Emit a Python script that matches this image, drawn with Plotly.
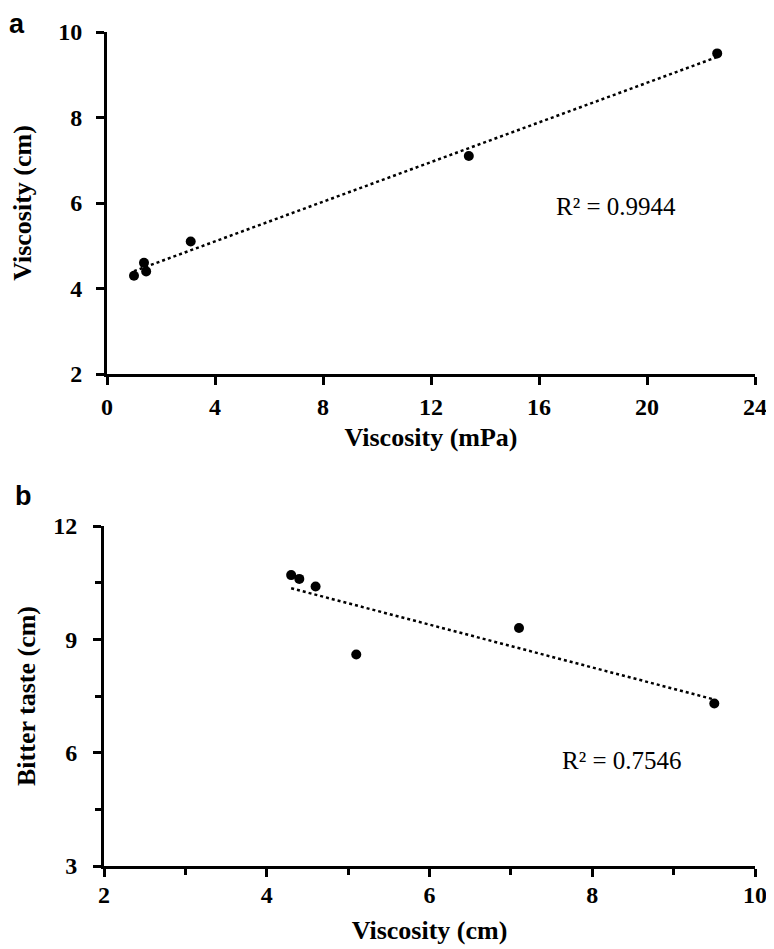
import numpy as np
import plotly.graph_objects as go

# Panel a data
visc_mpa = [1.0, 1.37, 1.45, 3.1, 13.4, 22.6]
visc_cm_a = [4.3, 4.6, 4.4, 5.1, 7.1, 9.5]
r2_a = "R² = 0.9944"

# Panel b data
visc_cm_b = [4.3, 4.4, 4.6, 5.1, 7.1, 9.5]
bitter = [10.7, 10.6, 10.4, 8.6, 9.3, 7.3]
r2_b = "R² = 0.7546"

W, H = 774, 949
O = 8  # default page body margin
FW, FH = W - O, H - O

def px(x):
    return (x - O) / FW

def py(y):
    return 1 - (y - O) / FH

def lin_fit(x, y):
    x = np.asarray(x, float); y = np.asarray(y, float)
    m, c = np.polyfit(x, y, 1)
    xs = np.array([x.min(), x.max()])
    return xs, m * xs + c

fig = go.Figure()

xa, ya = lin_fit(visc_mpa, visc_cm_a)
fig.add_trace(go.Scatter(x=xa, y=ya, mode="lines", line=dict(color="black", width=2.5, dash="dot"),
                         xaxis="x", yaxis="y", showlegend=False, hoverinfo="skip"))
fig.add_trace(go.Scatter(x=visc_mpa, y=visc_cm_a, mode="markers", marker=dict(color="black", size=10),
                         xaxis="x", yaxis="y", showlegend=False))

xb, yb = lin_fit(visc_cm_b, bitter)
fig.add_trace(go.Scatter(x=xb, y=yb, mode="lines", line=dict(color="black", width=2.5, dash="dot"),
                         xaxis="x2", yaxis="y2", showlegend=False, hoverinfo="skip"))
fig.add_trace(go.Scatter(x=visc_cm_b, y=bitter, mode="markers", marker=dict(color="black", size=10),
                         xaxis="x2", yaxis="y2", showlegend=False))

tickfont = dict(family="Liberation Serif", size=24, color="black", weight="bold")
titlefont = dict(family="Liberation Serif", size=26, color="black", weight="bold")

def ax(domain, rng, dtick, title, anchor, standoff, tls, minor=None):
    d = dict(domain=domain, range=rng, dtick=dtick, tick0=rng[0], showgrid=False, zeroline=False,
             showline=True, linecolor="black", linewidth=3, ticks="outside", ticklen=8,
             tickwidth=3, tickcolor="black", tickfont=tickfont, anchor=anchor, automargin=False,
             title=dict(text=title, font=titlefont, standoff=standoff), ticklabelstandoff=tls)
    if minor:
        d["minor"] = minor
    return d

fig.update_layout(
    width=FW, height=FH, margin=dict(l=0, r=0, t=0, b=0),
    paper_bgcolor="white", plot_bgcolor="white",
    xaxis=ax([px(107), px(755)], [0, 24], 4, "Viscosity (mPa)", "y", 10, 1),
    yaxis=ax([py(374), py(32)], [2, 10], 2, "Viscosity (cm)", "x", 23, 9),
    xaxis2=ax([px(104), px(755)], [2, 10], 2, "Viscosity (cm)", "y2", 15, -3,
              minor=dict(dtick=1, ticks="outside", ticklen=6, tickwidth=3, tickcolor="black")),
    yaxis2=ax([py(866), py(526)], [3, 12], 3, "Bitter taste (cm)", "x2", 11, 11,
              minor=dict(dtick=1.5, ticks="outside", ticklen=6, tickwidth=3, tickcolor="black")),
)

anns = [
    dict(text=r2_a, x=616, y=207),
    dict(text=r2_b, x=622, y=760),
]
for a in anns:
    fig.add_annotation(text=a["text"], xref="paper", yref="paper", x=px(a["x"]), y=py(a["y"]),
                       showarrow=False, xanchor="center", yanchor="middle",
                       font=dict(family="Liberation Serif", size=25, color="black"))

for lab, x, y in [("a", 8, 8), ("b", 14, 480)]:
    fig.add_annotation(text=lab, xref="paper", yref="paper", x=px(x), y=py(y),
                       showarrow=False, xanchor="left", yanchor="top", borderpad=0,
                       font=dict(family="Liberation Sans", size=27, color="black", weight="bold"))

fig.write_html("out.html")
